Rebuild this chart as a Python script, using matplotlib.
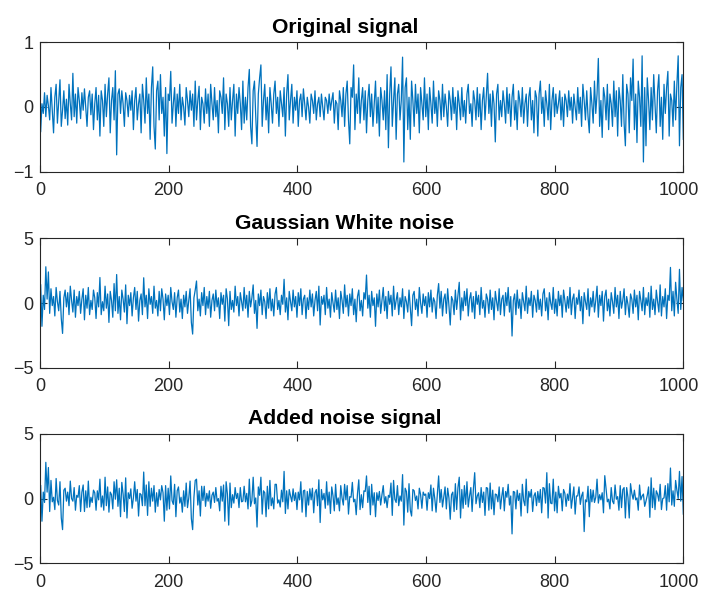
import numpy as np
import matplotlib
matplotlib.use("Agg")
import matplotlib.pyplot as plt
from matplotlib.transforms import ScaledTranslation

# values (every 2nd sample, x from 1 to 1000)
original_signal = [
    -0.38, 0.05, -0.1, 0.22, -0.15, 0.18, 0.02, -0.2, 0.3, -0.05,
    -0.4, 0.15, 0.35, -0.25, 0.1, 0.42, -0.3, -0.05, 0.25, -0.18,
    0.12, -0.28, 0.35, 0.05, -0.2, 0.52, -0.15, 0.2, -0.25, 0.3,
    0.1, -0.18, 0.22, -0.05, 0.28, 0.0, -0.3, 0.15, 0.25, -0.12,
    0.2, -0.35, 0.05, 0.3, -0.2, 0.18, -0.45, 0.25, 0.1, -0.3,
    0.35, -0.15, 0.2, 0.45, -0.4, 0.1, 0.3, -0.2, 0.56, -0.74,
    0.2, 0.28, -0.1, 0.25, 0.05, -0.3, 0.22, 0.1, -0.15, 0.18,
    -0.05, 0.25, -0.35, 0.1, 0.3, -0.2, 0.05, 0.2, -0.4, 0.35,
    0.1, -0.25, 0.45, -0.1, 0.2, -0.5, 0.3, 0.62, -0.3, -0.65,
    0.25, 0.4, -0.2, 0.5, -0.1, 0.15, -0.45, 0.3, -0.72, 0.2,
    0.1, 0.55, -0.25, 0.05, 0.3, -0.3, 0.2, -0.1, 0.35, -0.2,
    0.15, 0.0, -0.28, 0.3, 0.1, -0.15, 0.25, -0.05, 0.2, -0.3,
    0.4, -0.2, 0.1, 0.32, -0.35, 0.15, 0.05, -0.25, 0.28, -0.1,
    0.2, -0.3, 0.35, 0.05, -0.2, 0.3, -0.15, 0.1, -0.4, 0.25,
    0.15, -0.1, 0.45, -0.35, 0.2, 0.05, -0.3, 0.3, -0.2, 0.1,
    0.35, -0.45, 0.2, -0.1, 0.3, 0.05, -0.35, 0.4, -0.25, 0.15,
    -0.2, 0.3, 0.58, -0.3, -0.57, 0.25, 0.4, -0.15, -0.61, 0.2,
    0.45, 0.65, -0.3, 0.1, 0.35, -0.2, 0.15, -0.4, 0.3, 0.05,
    -0.25, 0.2, 0.4, -0.1, 0.15, -0.3, 0.25, 0.05, -0.15, 0.3,
    -0.45, 0.2, 0.5, -0.2, 0.1, 0.35, -0.25, 0.15, -0.05, 0.25,
    -0.3, 0.1, 0.2, -0.15, 0.28, 0.05, -0.2, 0.15, 0.0, -0.25,
    0.2, 0.1, -0.1, 0.25, -0.2, 0.05, 0.15, -0.15, 0.2, 0.0,
    -0.2, 0.15, 0.1, -0.1, 0.2, -0.05, 0.1, 0.22, -0.25, 0.1,
    0.05, -0.35, 0.25, 0.1, -0.15, 0.3, -0.3, 0.2, 0.4, -0.2,
    -0.57, 0.3, 0.15, 0.65, -0.35, 0.2, -0.1, 0.45, -0.25, 0.1,
    0.3, -0.2, 0.25, -0.4, 0.1, 0.35, -0.15, 0.2, -0.3, 0.05,
    0.4, -0.25, 0.15, -0.45, 0.3, 0.1, -0.2, 0.25, -0.35, 0.5,
    -0.63, 0.2, 0.62, -0.3, 0.1, 0.45, -0.5, 0.2, 0.35, -0.2,
    0.1, 0.77, -0.85, 0.3, 0.45, -0.35, 0.15, -0.5, 0.4, 0.1,
    -0.3, 0.35, -0.1, 0.2, -0.4, 0.3, 0.05, -0.2, 0.45, -0.15,
    0.2, -0.35, 0.3, 0.05, -0.25, 0.4, -0.1, 0.15, -0.3, 0.25,
    0.1, -0.2, 0.35, -0.15, 0.2, 0.0, -0.3, 0.25, 0.1, -0.2,
    0.3, -0.1, 0.15, -0.35, 0.25, 0.05, -0.2, 0.3, -0.15, 0.1,
    -0.25, 0.2, 0.35, -0.1, 0.05, -0.3, 0.25, 0.1, -0.2, 0.3,
    -0.15, 0.2, -0.35, 0.1, 0.3, -0.2, 0.15, 0.52, -0.1, 0.2,
    -0.3, 0.25, 0.05, -0.54, 0.2, 0.35, -0.2, 0.1, -0.15, 0.25,
    0.05, -0.25, 0.3, -0.1, 0.2, -0.3, 0.15, 0.35, -0.2, 0.1,
    -0.35, 0.25, 0.1, -0.15, 0.3, -0.25, 0.05, 0.2, -0.3, 0.15,
    0.3, -0.2, 0.1, -0.4, 0.25, 0.15, -0.45, 0.2, 0.4, -0.1,
    0.15, -0.3, 0.25, 0.05, -0.2, 0.35, -0.35, 0.1, 0.3, -0.15,
    0.2, -0.1, 0.05, 0.25, -0.2, 0.15, -0.3, 0.2, 0.1, -0.15,
    0.25, -0.05, 0.15, -0.25, 0.2, 0.0, -0.2, 0.3, -0.1, 0.15,
    -0.3, 0.35, 0.1, -0.2, 0.25, -0.15, -0.4, 0.3, 0.05, -0.25,
    0.4, -0.1, 0.2, 0.75, -0.3, 0.1, -0.47, 0.3, 0.15, -0.2,
    0.35, -0.35, 0.2, 0.05, -0.3, 0.4, -0.15, 0.25, -0.45, 0.3,
    0.1, -0.3, 0.5, -0.25, -0.6, 0.35, 0.2, -0.4, 0.45, 0.1,
    0.74, -0.35, 0.2, -0.55, 0.4, 0.15, -0.3, 0.79, -0.85, 0.3,
    -0.6, 0.45, 0.1, -0.35, 0.3, -0.2, 0.5, 0.05, -0.4, 0.25,
    0.5, -0.3, 0.15, -0.5, 0.35, -0.1, 0.3, 0.55, -0.45, 0.2,
    0.1, -0.3, 0.4, -0.2, 0.35, 0.79, -0.6, 0.3, 0.5, -0.5,
]

white_noise = [
    1.4, -1.8, 0.6, -0.5, 2.8, 0.3, 2.4, -0.8, 1.1, -0.2,
    0.5, -1.0, 1.2, 0.1, -0.6, 0.9, -1.2, -2.35, 0.4, 1.0,
    -0.3, 0.8, -0.9, 1.3, 0.2, -0.7, 1.0, -1.1, 0.5, -0.2,
    0.9, -0.8, 0.3, 1.1, -1.3, 0.6, -0.4, 1.2, -0.9, 0.2,
    -0.5, 1.0, 0.4, -1.2, 0.8, -0.3, 1.97, -0.9, 0.1, -0.6,
    1.3, -0.4, 0.7, -1.5, 0.9, 0.2, -1.1, 1.5, -0.6, 2.2,
    -0.8, 0.5, -1.3, 1.0, 0.3, -0.7, 1.4, -1.6, 0.6, -0.2,
    0.8, -1.0, 0.4, 1.2, -0.5, 0.9, -1.4, 0.2, 0.7, -0.9,
    1.95, -0.3, 0.6, -1.2, 1.1, -0.1, 0.5, -0.8, 1.3, -0.4,
    0.2, -1.0, 0.9, -0.6, 1.1, 0.3, -1.3, 0.7, -0.2, 0.6,
    -0.9, 1.2, 0.1, -0.5, 0.8, -1.1, 0.4, 1.0, -0.7, 0.3,
    -1.2, 0.6, -0.3, 0.9, -0.8, 0.2, 1.1, -1.5, -2.4, 0.4,
    1.0, 1.7, -0.6, 0.3, -1.0, 0.8, -0.2, 1.2, -0.9, 0.5,
    -0.4, 0.9, -1.1, 0.2, 0.7, -0.6, 1.0, -0.3, 0.4, -1.2,
    0.8, -0.1, 0.6, -1.4, 1.1, 0.3, -1.75, 0.9, -0.5, 0.2,
    -0.7, 1.3, -0.2, 0.5, -1.0, 0.8, 0.1, -0.6, 1.2, -0.4,
    0.6, -1.1, 0.9, -0.3, 0.4, 1.4, -0.8, 0.2, -1.96, 0.7,
    -0.2, 1.0, -0.9, 0.5, 0.1, -1.2, 0.8, -0.4, 1.1, -0.6,
    0.3, -1.0, 0.7, 1.2, -0.5, 0.2, -0.9, 0.6, -0.1, 1.83,
    -0.7, 0.4, -1.3, 0.9, 0.1, -0.6, 1.0, -0.3, 0.5, -1.1,
    0.8, -0.2, 1.1, -0.9, 0.3, 0.6, -1.2, 0.4, -0.5, 1.0,
    -0.3, 0.7, -1.0, 0.2, 0.9, -0.6, 1.3, -1.7, 0.5, -0.1,
    0.6, -0.9, 1.2, -0.4, 0.3, -1.1, 0.8, 0.0, -0.7, 1.0,
    -0.5, 0.4, -1.2, 0.9, 0.2, -0.8, 1.4, -0.3, 0.6, -1.0,
    0.7, -0.2, 1.1, -0.9, 0.3, -1.45, 0.5, 1.0, -0.6, 0.2,
    -1.0, 0.8, 0.3, 2.16, -0.4, 0.6, -1.1, 0.9, -0.2, 0.4,
    -1.8, 0.7, -0.3, 1.0, -0.8, 0.2, 1.2, -0.6, 0.5, -1.2,
    0.9, -0.1, 0.6, -1.0, 1.3, -0.5, 0.2, 0.8, -0.9, 0.4,
    -0.3, 1.1, -1.2, 0.5, 0.1, -0.7, 1.0, -0.4, -1.75, 0.6,
    0.9, -0.5, 0.3, -1.0, 1.2, 0.0, -0.8, 0.7, -0.2, 0.5,
    -1.1, 0.8, -0.3, 1.0, -0.7, 0.4, 0.1, -1.2, 0.6, 1.5,
    -0.4, 0.9, -1.0, 0.3, 0.7, -0.8, 1.1, -0.2, -1.7, 0.5,
    0.2, -0.9, 1.0, -0.5, 0.6, 1.6, -1.3, 0.4, -0.6, 0.9,
    -0.2, 1.1, -1.0, 0.3, 0.8, -0.7, 0.5, -1.2, 0.9, -0.1,
    0.6, -0.9, 1.2, -0.4, 0.2, -1.1, 0.7, 0.3, -0.8, 1.0,
    -0.5, 0.4, -1.3, 0.9, 0.1, -0.6, 1.1, -0.9, 0.3, 0.6,
    -1.0, 0.8, -0.2, 1.2, -0.7, 0.5, -2.55, 0.2, 0.7, -0.9,
    1.0, -0.4, 0.3, -1.2, 0.8, 0.1, -0.6, 1.3, -0.8, 0.4,
    -0.2, 0.9, -1.1, 0.6, 0.2, -0.7, 1.0, -0.5, 0.3, -1.0,
    0.7, 1.1, -0.6, 0.4, -1.3, 0.8, 0.0, -0.5, 1.2, -0.8,
    0.3, -1.0, 0.9, -0.2, 0.6, -1.1, 1.0, 0.2, -0.7, 0.5,
    -0.4, 1.2, -0.9, 0.3, 0.7, -1.2, 0.4, -0.1, 1.0, -0.6,
    0.5, -1.6, 0.8, 0.1, -0.5, 1.1, -1.0, 0.4, -0.3, 0.9,
    -0.7, 0.2, 1.3, -1.1, 0.6, -0.2, 0.9, -1.4, 0.5, 1.0,
    -0.6, 0.3, -1.0, 0.8, 0.1, -0.8, 1.2, -0.3, 0.6, -1.2,
    0.9, -0.4, 0.2, 1.1, -0.9, 0.5, -0.1, -1.1, 0.7, 0.3,
    -0.8, 1.0, -0.3, 0.6, -1.3, 0.9, 0.2, -0.6, 1.2, -0.9,
    0.4, -0.2, 0.8, -1.1, 1.3, -0.5, 0.3, -0.9, 1.0, 0.1,
    -0.7, 1.4, -1.0, 0.5, -0.3, 1.1, -1.2, 0.6, 0.2, 2.75,
    -0.6, 0.9, -1.0, 1.6, 0.3, -0.8, 2.6, -0.5, 1.2, 0.2,
]

noisy_signal = [
    1.0, -1.75, 0.5, -0.3, 2.8, 0.5, 2.4, -1.0, 1.4, -0.25,
    0.1, -0.85, 1.55, -0.15, -0.5, 1.3, -1.5, -2.4, 0.65, 0.8,
    -0.2, 0.5, -0.55, 1.35, 0.0, -0.2, 0.85, -0.9, 0.25, 0.1,
    1.0, -1.0, 0.5, 1.05, -1.0, 0.6, -0.7, 1.35, -0.65, 0.1,
    -0.3, 0.65, 0.45, -0.9, 0.6, -0.1, 1.5, -0.65, 0.2, -0.9,
    1.65, -0.55, 0.9, -1.05, 0.5, 0.3, -0.8, 1.3, -0.05, 1.45,
    -0.6, 0.8, -1.4, 1.25, 0.35, -1.0, 1.6, -1.5, 0.45, 0.0,
    0.75, -0.75, 0.05, 1.3, -0.2, 0.7, -1.35, 0.4, 0.3, -0.55,
    2.05, -0.55, 1.05, -1.3, 1.3, -0.6, 0.8, -0.2, 1.0, -1.05,
    0.45, -0.6, 0.7, -0.1, 1.0, 0.45, -1.75, 1.0, -0.9, 0.8,
    -0.8, 1.75, -0.15, -0.45, 1.1, -1.4, 0.6, 0.9, -0.35, 0.1,
    -1.05, 0.6, -0.6, 1.2, -0.7, 0.05, 1.35, -1.55, -2.4, 0.1,
    1.4, 1.5, -0.5, 0.6, -1.35, 0.95, -0.15, 0.95, -0.6, 0.4,
    -0.2, 0.6, -0.75, 0.25, 0.5, -0.3, 0.85, -0.2, 0.0, -0.95,
    0.95, -0.2, 1.05, -1.75, 1.3, 0.35, -2.05, 1.2, -0.7, 0.3,
    -0.35, 0.85, 0.0, 0.4, -0.7, 0.85, -0.25, -0.2, 0.95, -0.25,
    0.4, -0.8, 1.5, -0.6, -0.15, 1.65, -0.4, 0.05, -2.2, 0.9,
    0.25, 1.65, -1.2, 0.6, 0.45, -1.4, 0.95, -0.8, 1.4, -0.55,
    0.05, -0.8, 1.1, 1.1, -0.35, -0.1, -0.65, 0.65, -0.25, 2.1,
    -1.15, 0.6, -0.8, 0.7, 0.2, -0.25, 0.75, -0.15, 0.45, -0.85,
    0.5, -0.1, 1.3, -1.05, 0.6, 0.65, -1.4, 0.55, -0.5, 0.75,
    -0.1, 0.8, -1.1, 0.45, 0.7, -0.55, 1.45, -1.85, 0.7, -0.1,
    0.4, -0.75, 1.3, -0.5, 0.5, -1.15, 0.9, 0.2, -0.95, 1.1,
    -0.45, 0.05, -0.95, 1.0, 0.05, -0.5, 1.1, -0.1, 1.0, -1.2,
    0.15, 0.1, 1.25, -0.25, -0.05, -1.25, 0.4, 1.45, -0.85, 0.3,
    -0.7, 0.6, 0.55, 1.75, -0.3, 0.95, -1.25, 1.1, -0.5, 0.45,
    -1.4, 0.45, -0.15, 0.55, -0.5, 0.3, 1.0, -0.35, 0.15, -0.7,
    0.25, 0.1, 1.2, -1.3, 1.4, -0.05, -0.3, 1.0, -0.55, 0.2,
    -0.2, 1.85, -2.05, 0.8, 0.55, -1.05, 1.15, -0.9, -1.35, 0.7,
    0.6, -0.15, 0.2, -0.8, 0.8, 0.3, -0.75, 0.5, 0.25, 0.35,
    -0.9, 0.45, 0.0, 1.05, -0.95, 0.8, 0.0, -1.05, 0.3, 1.75,
    -0.3, 0.7, -0.65, 0.15, 0.9, -0.8, 0.8, 0.05, -1.6, 0.3,
    0.5, -1.0, 1.15, -0.85, 0.85, 1.65, -1.5, 0.7, -0.75, 1.0,
    -0.45, 1.3, -0.65, 0.2, 0.85, -1.0, 0.75, 2.0, -0.4, 0.2,
    0.45, -0.7, 0.85, -0.3, 0.5, -1.3, 0.85, 0.8, -0.9, 1.2,
    -0.8, 0.65, -1.25, 0.35, 0.3, -0.25, 0.9, -0.8, 0.15, 0.85,
    -0.95, 0.55, 0.1, 1.1, -0.5, 0.2, -2.73, 0.55, 0.5, -0.8,
    0.65, -0.15, 0.4, -1.35, 1.1, -0.15, -0.55, 1.5, -1.1, 0.55,
    0.1, 0.7, -1.0, 0.2, 0.45, -0.55, 0.55, -0.3, 0.7, -1.1,
    0.85, 0.8, -0.35, 2.0, -1.5, 1.15, -0.35, -0.4, 1.5, -0.95,
    0.5, -1.1, 0.95, 0.05, 0.4, -0.95, 0.7, 0.4, -0.6, 0.35,
    -0.15, 1.15, -0.75, 0.05, 0.9, -1.2, 0.2, 0.2, 0.9, -0.45,
    0.2, 0.5, -2.55, -0.1, -0.25, 0.95, -1.4, 0.7, -0.25, 0.65,
    -0.3, 0.1, 1.5, -0.35, 0.3, -0.1, 0.45, -1.1, 1.77, 0.8,
    -0.25, -0.05, -0.8, 0.85, -0.2, -0.4, 1.05, -0.05, 0.15, -0.9,
    1.0, -0.7, 0.7, 0.85, -1.5, 0.85, 0.1, -1.5, 1.15, 0.4,
    -0.05, 0.65, -0.1, 0.05, -0.9, 1.05, -0.1, 0.2, 0.35, -0.6,
    -0.2, 0.25, 0.9, -1.45, 1.6, -0.7, 0.8, -0.85, 0.6, 0.35,
    -0.2, 1.1, -0.85, 0.0, 0.05, 1.0, -0.9, 1.15, -0.25, 2.36,
    -0.5, 0.6, -0.6, 1.4, 0.65, 0.0, 2.1, -0.2, 1.7, -1.2,
]

titles = ['Original signal', 'Gaussian White noise', 'Added noise signal']
series = [original_signal, white_noise, noisy_signal]
ylims = [(-1, 1), (-5, 5), (-5, 5)]
yticks = [[-1, 0, 1], [-5, 0, 5], [-5, 0, 5]]
xticks = [0, 200, 400, 600, 800, 1000]

plt.rcParams['font.family'] = ['Liberation Sans', 'DejaVu Sans']
line_color = '#0072BD'
axis_color = '#262626'

fig = plt.figure(figsize=(7.01, 5.91), dpi=100)
bottoms = [0.7095, 0.3778, 0.0469]
for k in range(3):
    ax = fig.add_axes([0.0571, bottoms[k], 0.9177, 0.219])
    y = np.array(series[k])
    x = np.linspace(1, 1000, len(y))
    ax.plot(x, y, color=line_color, linewidth=0.9)
    ax.set_xlim(0, 1000)
    ax.set_ylim(*ylims[k])
    ax.set_xticks(xticks)
    ax.set_yticks(yticks[k])
    ax.set_title(titles[k], fontsize=15.2, fontweight='bold', pad=7, x=0.474)
    ax.tick_params(direction='in', top=True, right=True, length=4.8,
                   width=0.8, colors=axis_color, labelsize=13)
    ax.tick_params(axis='x', pad=7.5)
    ax.tick_params(axis='y', pad=4.5)
    for sp in ax.spines.values():
        sp.set_color(axis_color)
        sp.set_linewidth(0.8)
    # keep the last x label inside the figure edge
    last = ax.get_xticklabels()[-1]
    last.set_transform(last.get_transform() + ScaledTranslation(-3 / 72, 0, fig.dpi_scale_trans))

fig.savefig('out.png', dpi=100)
